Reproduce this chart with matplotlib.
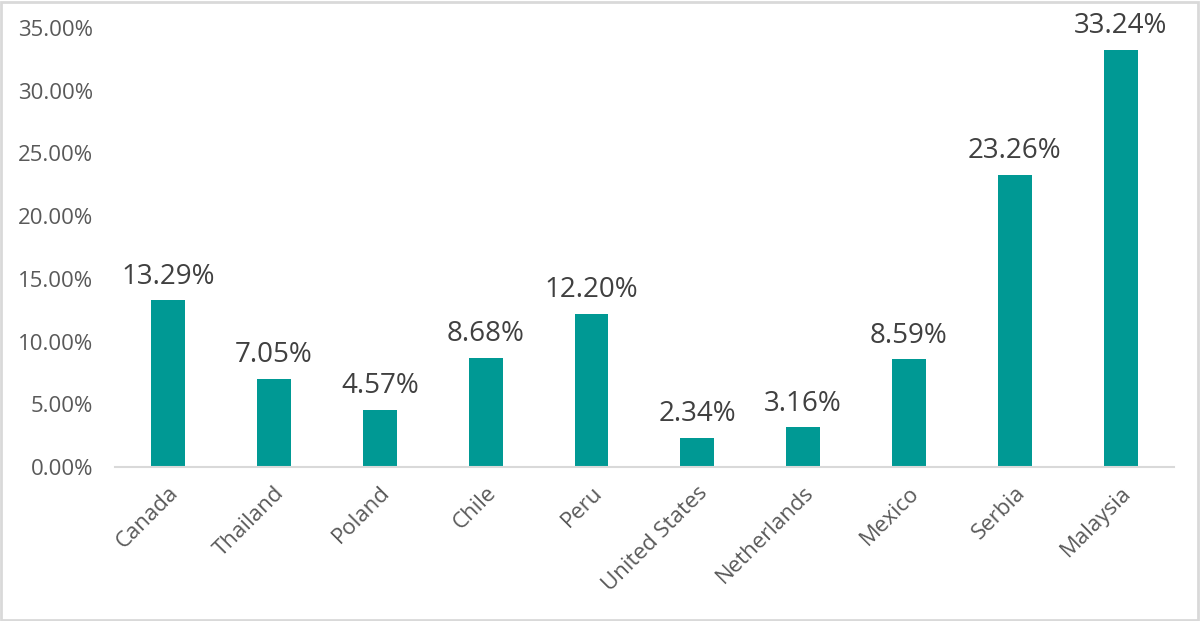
import matplotlib.pyplot as plt
from matplotlib.patches import Rectangle

countries = ['Canada', 'Thailand', 'Poland', 'Chile', 'Peru', 'United States',
             'Netherlands', 'Mexico', 'Serbia', 'Malaysia']
values = [13.29, 7.05, 4.57, 8.68, 12.20, 2.34, 3.16, 8.59, 23.26, 33.24]
yticks = [0, 5, 10, 15, 20, 25, 30, 35]

plt.rcParams['font.family'] = ['Open Sans', 'DejaVu Sans']

fig = plt.figure(figsize=(12, 6.21), dpi=100)
ax = fig.add_axes([0.096, 0.248, 0.882, 0.707])

x = range(len(countries))
bars = ax.bar(x, values, width=0.32, color='#009994')

for xi, v in zip(x, values):
    ax.annotate(f'{v:.2f}%', (xi, v), xytext=(0, 7), textcoords='offset points',
                ha='center', va='bottom', fontsize=20, color='#404040')

ax.set_xlim(-0.5, len(countries) - 0.5)
ax.set_ylim(0, 35)
ax.set_yticks(yticks)
ax.set_yticklabels([f'{t:.2f}%' for t in yticks])
ax.set_xticks(list(x))
ax.set_xticklabels(countries, rotation=45, ha='right', rotation_mode='anchor')
ax.tick_params(axis='both', length=0, labelsize=16, labelcolor='#595959')
ax.tick_params(axis='y', pad=16)
ax.tick_params(axis='x', pad=11)

for s in ['top', 'right', 'left']:
    ax.spines[s].set_visible(False)
ax.spines['bottom'].set_color('#d9d9d9')
ax.spines['bottom'].set_linewidth(1.5)

fig.patches.append(Rectangle((0.001, 0.002), 0.997, 0.995, transform=fig.transFigure,
                             fill=False, edgecolor='#d9d9d9', linewidth=2))

fig.savefig('out.png', dpi=100)
